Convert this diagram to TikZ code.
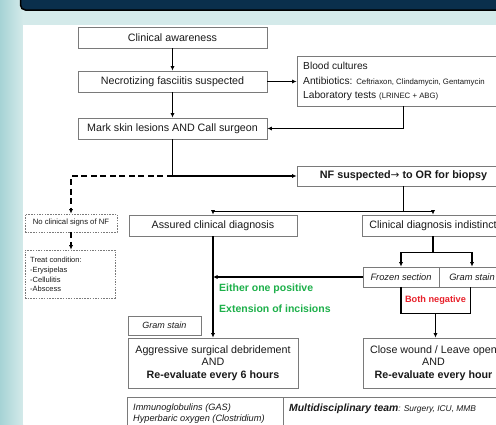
\documentclass[tikz,border=0pt]{standalone}
\usepackage{fontspec}
\setmainfont{Liberation Sans}
\newfontfamily\arrowfont{DejaVu Sans}
\usetikzlibrary{arrows.meta,calc}
\definecolor{navy}{HTML}{0A2F4C}
\definecolor{bgteal}{HTML}{D4EAEA}
\definecolor{edgeteal}{HTML}{A6D3D5}
\definecolor{boxgray}{HTML}{7A7A7A}
\definecolor{grn}{HTML}{1DB04A}
\definecolor{rd}{HTML}{E8202A}
\definecolor{txt}{HTML}{1A1A1A}
\begin{document}
\begin{tikzpicture}[x=1pt,y=-1pt,
  box/.style={draw=boxgray,line width=0.8pt,fill=white,inner sep=0pt,text=txt,
    font=\fontsize{10.7}{12.5}\selectfont,align=center},
  dbox/.style={draw=boxgray,line width=0.8pt,dash pattern=on 1.5pt off 1.2pt,inner sep=0pt,text=txt},
  conn/.style={line width=1.4pt,draw=black,-{Latex[length=4.5pt,width=4.2pt]}},
  line/.style={line width=1.4pt,draw=black},
  dconn/.style={line width=1.4pt,draw=black,dash pattern=on 6pt off 3.5pt,-{Latex[length=4.5pt,width=4.2pt]}},
  lbl/.style={inner sep=0pt,text=txt,anchor=west},
  gtxt/.style={inner sep=0pt,anchor=west,text=grn,font=\fontsize{10.5}{12}\selectfont\bfseries}]
\useasboundingbox (0,0) rectangle (496,424);
\clip (0,0) rectangle (496,424);
% background
\fill[bgteal] (0,0) rectangle (496,424);
\shade[left color=edgeteal,right color=bgteal] (0,0) rectangle (23,424);
\fill[white] (23,25) rectangle (496,424);
\draw[fill=navy,draw=black,line width=1.5pt,rounded corners=5pt] (20.5,-12) rectangle (510,10);

% main column
\node[box,minimum width=189,minimum height=21] (aware) at (172.5,37.5) {Clinical awareness};
\node[box,minimum width=189,minimum height=21] (nec) at (172.5,81.5) {Necrotizing fasciitis suspected};
\node[box,minimum width=189,minimum height=21] (mark) at (172.5,128.5) {Mark skin lesions AND Call surgeon};

\node[box,minimum width=213,minimum height=50] (blood) at (403.5,81) {};
\node[lbl,align=left,font=\fontsize{10.2}{14.5}\selectfont] (bloodtxt) at (303,81.5)
  {Blood cultures\\Antibiotics: {\fontsize{7.8}{9}\selectfont Ceftriaxon, Clindamycin, Gentamycin}\\Laboratory tests {\fontsize{7.8}{9}\selectfont (LRINEC + ABG)}};

\node[box,minimum width=213,minimum height=20,font=\fontsize{10.8}{12.5}\selectfont\bfseries] (nf) at (403.5,176) {NF suspected{\arrowfont\mdseries\fontsize{10.5}{12}\selectfont →} to OR for biopsy};

\node[box,minimum width=168,minimum height=21] (assured) at (213,225.5) {Assured clinical diagnosis};
\node[box,minimum width=142,minimum height=21] (indist) at (433,225.5) {Clinical diagnosis indistinct};

\node[box,minimum width=76,minimum height=20,font=\fontsize{9.3}{11}\selectfont\itshape] (frozen) at (401,277) {Frozen section};
\node[box,minimum width=66,minimum height=20,font=\fontsize{9.3}{11}\selectfont\itshape] (gram) at (472,277) {Gram stain};

\node[inner sep=0pt,minimum width=69,minimum height=26,text=rd,font=\fontsize{9.2}{11}\selectfont\bfseries] (both) at (435.5,300) {Both negative};
\draw[line] (both.north west) -- (both.south west) -- (both.south east) -- (both.north east);

\node[box,minimum width=73,minimum height=19,font=\fontsize{9}{11}\selectfont\itshape] (gs) at (164.5,325.5) {Gram stain};

\node[box,minimum width=170,minimum height=50] (agg) at (213,363)
  {Aggressive surgical debridement\\AND\\\textbf{Re-evaluate every 6 hours}};
\node[box,minimum width=141,minimum height=50] (close) at (433.5,363)
  {Close wound / Leave open\\AND\\\textbf{Re-evaluate every hour}};

\node[box,minimum width=156,minimum height=48] (immu) at (205,421) {};
\node[box,minimum width=227,minimum height=48] (multi) at (396.5,421) {};
\node[lbl,font=\fontsize{9.2}{11}\selectfont\itshape] (immutxt) at (133,408) {Immunoglobulins (GAS)};
\node[lbl,font=\fontsize{9.2}{11}\selectfont\itshape] (hyptxt) at (133,419.5) {Hyperbaric oxygen (Clostridium)};
\node[lbl,font=\fontsize{10.4}{12}\selectfont\bfseries\itshape] (multitxt) at (289,409)
  {Multidisciplinary team{\mdseries\fontsize{8.4}{10}\selectfont: Surgery, ICU, MMB}};

% green labels
\node[gtxt] (pos) at (219,289) {Either one positive};
\node[gtxt] (ext) at (219,309) {Extension of incisions};

% left dashed branch
\node[dbox,minimum width=92,minimum height=18,font=\fontsize{7.7}{9}\selectfont] (nocs) at (71,223) {No clinical signs of NF};
\node[dbox,minimum width=90,minimum height=48] (treat) at (70,274) {};
\node[lbl,align=left,font=\fontsize{7.5}{9.7}\selectfont] (treattxt) at (30,274.5)
  {Treat condition:\\-Erysipelas\\-Cellulitis\\-Abscess};

% connectors
\draw[conn] (aware) -- (nec);
\draw[conn] (nec) -- (mark);
\draw[conn] (nec.east) -- (nec.east -| blood.west);
\draw[conn] (blood.south) |- (mark.east);
\coordinate (j) at (mark.south |- nf.west);
\draw[conn] (mark.south) -- (j) -- (nf.west);
\draw[dconn] (j) -| (nocs.north);
\draw[dconn] (nocs.south) -- (nocs.south |- treat.north);
\draw[conn] (nf.south) -- ++(0,25) -| (assured.north);
\draw[conn] (nf.south) -- ++(0,25) -| (indist.north);
\draw[conn] (indist.south) -- ++(0,16) -| (frozen.north);
\draw[conn] (indist.south) -- ++(0,16) -| (gram.north);
\draw[conn] (assured.south) -- (agg.north);
\draw[conn] (frozen.west) -- (frozen.west -| agg.north);
\draw[conn] (both.south) -- (both.south |- close.north);
\end{tikzpicture}
\end{document}
